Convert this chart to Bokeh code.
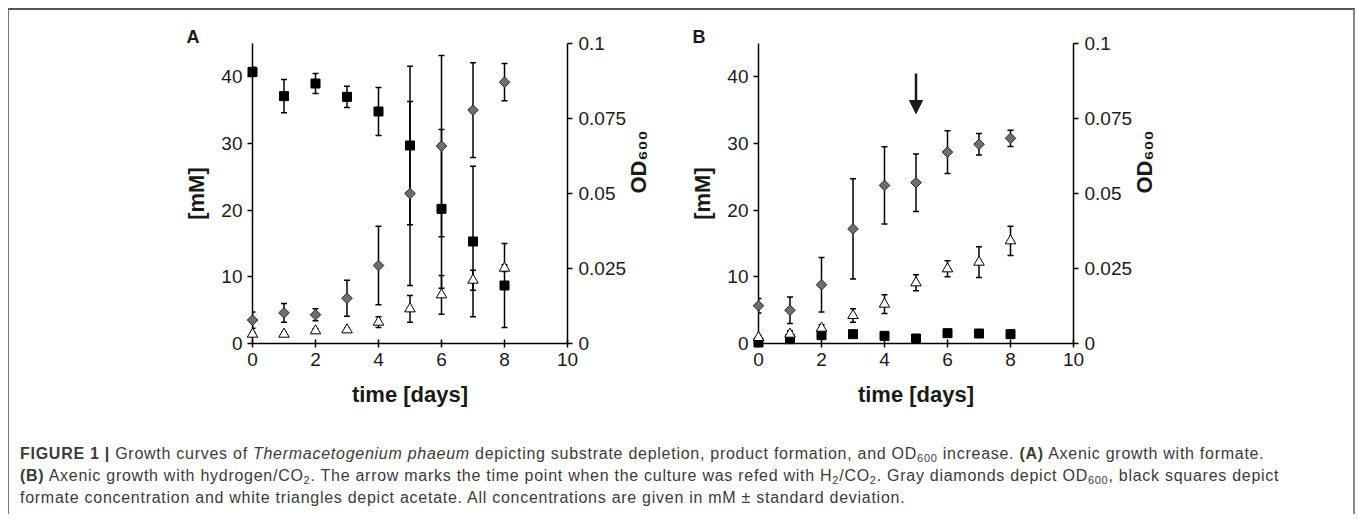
import math
from bokeh.plotting import figure
from bokeh.models import (ColumnDataSource, Range1d, LinearAxis, FixedTicker, Whisker, TeeHead,
                          Arrow, NormalHead, Div, CustomJSTickFormatter, Title)
from bokeh.layouts import row, column
from bokeh.embed import file_html
from bokeh.resources import INLINE

days = [0, 1, 2, 3, 4, 5, 6, 7, 8]

# Panel A: axenic growth with formate
a_formate = [40.75, 37.1, 39.0, 37.0, 34.8, 29.7, 20.2, 15.3, 8.7]
a_formate_sd = [0.7, 2.5, 1.5, 1.6, 3.6, 11.9, 11.9, 11.3, 6.3]
a_acetate = [1.4, 1.4, 1.9, 2.05, 3.2, 5.2, 7.3, 9.5, 11.3]
a_acetate_sd = [0.3, 0.3, 0.3, 0.3, 0.8, 2.0, 2.9, 1.5, 0.5]
a_od = [0.0078, 0.0102, 0.0096, 0.0151, 0.0260, 0.0500, 0.0658, 0.0778, 0.0871]
a_od_sd = [0.0027, 0.0031, 0.0020, 0.0060, 0.0131, 0.0307, 0.0302, 0.0158, 0.0062]

# Panel B: axenic growth with H2/CO2
b_formate = [0.15, 0.65, 1.25, 1.4, 1.15, 0.75, 1.55, 1.5, 1.4]
b_formate_sd = [0.1, 0.1, 0.1, 0.1, 0.1, 0.1, 0.2, 0.4, 0.6]
b_acetate = [0.9, 1.4, 2.3, 4.2, 5.9, 9.1, 11.2, 12.2, 15.4]
b_acetate_sd = [0.3, 0.5, 0.5, 1.0, 1.4, 1.2, 1.2, 2.3, 2.2]
b_od = [0.0126, 0.0111, 0.0196, 0.0382, 0.0527, 0.0536, 0.0638, 0.0664, 0.0684]
b_od_sd = [0.0024, 0.0044, 0.0091, 0.0167, 0.0129, 0.0096, 0.0071, 0.0036, 0.0027]

refeed_day = 5
refeed_arrow_from = 40.5
refeed_arrow_to = 34.5

x_ticks = [0, 2, 4, 6, 8, 10]
mm_ticks = [0, 10, 20, 30, 40]
od_ticks = [0, 0.025, 0.05, 0.075, 0.1]

FONT = "Liberation Sans"
X_MAX = 10
MM_MAX = 45
OD_MAX = 0.1


def style_axis(ax):
    ax.axis_line_width = 1.5
    ax.axis_line_color = "black"
    ax.major_tick_line_width = 1.5
    ax.major_tick_line_color = "black"
    ax.minor_tick_line_color = None
    ax.major_label_text_font = FONT
    ax.major_label_text_font_size = "19px"
    ax.major_label_text_color = "#1a1a1a"
    ax.axis_label_text_font = FONT
    ax.axis_label_text_font_size = "22px"
    ax.axis_label_text_font_style = "bold"
    ax.axis_label_text_color = "#1a1a1a"


def make_panel(letter, formate, formate_sd, acetate, acetate_sd, od, od_sd,
               border_left, border_right, arrow=False):
    p = figure(output_backend="svg", toolbar_location=None,
               frame_width=315, frame_height=300,
               min_border_left=border_left, min_border_right=border_right,
               min_border_top=33, min_border_bottom=20,
               x_range=Range1d(0, X_MAX), y_range=Range1d(0, MM_MAX),
               x_axis_location=None, y_axis_location=None)
    p.extra_y_ranges = {"od": Range1d(0, OD_MAX)}
    p.xgrid.visible = False
    p.ygrid.visible = False
    p.outline_line_color = None
    p.background_fill_color = "white"
    p.border_fill_color = "white"

    p.title = Title(text=letter, align="left", offset=-66, standoff=-7,
                    text_font=FONT, text_font_size="18px", text_font_style="bold",
                    text_color="#1a1a1a")

    xa = LinearAxis(ticker=FixedTicker(ticks=x_ticks), axis_label="time [days]")
    style_axis(xa)
    xa.major_tick_in = 4
    xa.major_tick_out = 4
    xa.major_label_standoff = 5
    xa.axis_label_standoff = 13
    p.add_layout(xa, "below")

    ya = LinearAxis(ticker=FixedTicker(ticks=mm_ticks), axis_label="[mM]")
    style_axis(ya)
    ya.major_tick_in = 0
    ya.major_tick_out = 5
    ya.major_label_standoff = 5
    ya.axis_label_standoff = 9
    p.add_layout(ya, "left")

    ra = LinearAxis(y_range_name="od", ticker=FixedTicker(ticks=od_ticks),
                    axis_label="OD₆₀₀",
                    formatter=CustomJSTickFormatter(code="return String(tick)"))
    style_axis(ra)
    ra.major_tick_in = 0
    ra.major_tick_out = 5
    ra.major_label_standoff = 6
    ra.axis_label_standoff = 9
    ra.axis_label_orientation = math.pi / 2
    p.add_layout(ra, "right")

    sq = ColumnDataSource(dict(x=days, y=formate,
                               lo=[v - s for v, s in zip(formate, formate_sd)],
                               hi=[v + s for v, s in zip(formate, formate_sd)]))
    tr = ColumnDataSource(dict(x=days, y=acetate,
                               lo=[v - s for v, s in zip(acetate, acetate_sd)],
                               hi=[v + s for v, s in zip(acetate, acetate_sd)]))
    di = ColumnDataSource(dict(x=days, y=od,
                               lo=[v - s for v, s in zip(od, od_sd)],
                               hi=[v + s for v, s in zip(od, od_sd)]))

    def whisk(src, rng="default"):
        w = Whisker(source=src, base="x", lower="lo", upper="hi", dimension="height",
                    line_width=1.5, line_color="black", y_range_name=rng,
                    upper_head=TeeHead(size=6, line_width=1.5, line_color="black"),
                    lower_head=TeeHead(size=6, line_width=1.5, line_color="black"))
        p.add_layout(w)

    whisk(sq)
    whisk(tr)
    whisk(di, "od")

    p.scatter("x", "y", source=sq, marker="square", size=9,
              fill_color="black", line_color="black", level="overlay")
    p.scatter("x", "y", source=tr, marker="triangle", size=10.5,
              fill_color="white", line_color="black", line_width=1, level="overlay")
    p.scatter("x", "y", source=di, marker="square", angle=math.pi / 4, size=7.5,
              fill_color="#6e6e6e", line_color="#2a2a2a", line_width=1,
              y_range_name="od", level="overlay")

    if arrow:
        p.add_layout(Arrow(x_start=refeed_day, y_start=refeed_arrow_from,
                           x_end=refeed_day, y_end=refeed_arrow_to,
                           line_width=2.5, line_color="#1a1a1a",
                           end=NormalHead(size=13, fill_color="#1a1a1a",
                                          line_color="#1a1a1a")))
    return p


pa = make_panel("A", a_formate, a_formate_sd, a_acetate, a_acetate_sd, a_od, a_od_sd,
                243, 100)
pb = make_panel("B", b_formate, b_formate_sd, b_acetate, b_acetate_sd, b_od, b_od_sd,
                91, 280, arrow=True)

SUB = '<sub style="font-size:11px;line-height:0;vertical-align:-3px">'
caption_html = (
    "<b>FIGURE 1 |</b> Growth curves of <i>Thermacetogenium phaeum</i> depicting substrate "
    "depletion, product formation, and OD" + SUB + "600</sub> increase. <b>(A)</b> Axenic growth "
    "with formate.<br>"
    "<b>(B)</b> Axenic growth with hydrogen/CO" + SUB + "2</sub>. The arrow marks the time point "
    "when the culture was refed with H" + SUB + "2</sub>/CO" + SUB + "2</sub>. Gray diamonds depict "
    "OD" + SUB + "600</sub>, black squares depict<br>"
    "formate concentration and white triangles depict acetate. All concentrations are given "
    "in mM \u00b1 standard deviation."
)
caption = Div(text=caption_html, width=1320,
              styles={"font-family": FONT, "font-size": "16px", "color": "#3a3a3a",
                      "letter-spacing": "0.73px",
                      "line-height": "22px", "white-space": "nowrap",
                      "padding-left": "6px", "padding-top": "29px"})

layout = column(row(pa, pb), caption,
                styles={"margin-left": "8px", "margin-top": "8px",
                        "border-top": "2px solid #555555", "border-left": "1px solid #777777",
                        "border-right": "2px solid #888888", "background-color": "white"})

open("out.html", "w").write(file_html(layout, INLINE))
